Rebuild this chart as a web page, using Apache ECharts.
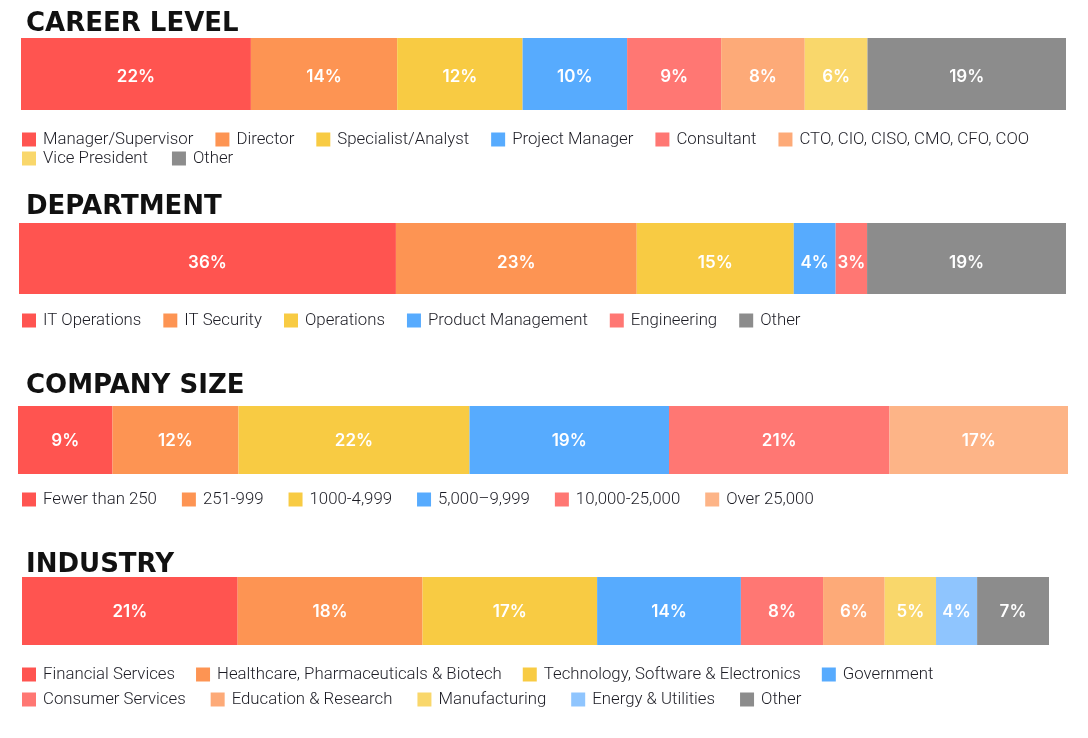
<!DOCTYPE html>
<html>
<head>
<meta charset="utf-8">
<script src="https://cdn.jsdelivr.net/npm/echarts@6/dist/echarts.min.js"></script>
<style>
html,body{margin:0;padding:0;background:#fff;}
#c{width:1088px;height:738px;}
</style>
</head>
<body>
<div id="c"></div>
<script>
// ---- data ----
const titles = ['CAREER LEVEL', 'DEPARTMENT', 'COMPANY SIZE', 'INDUSTRY'];

const careerCats = ['Manager/Supervisor', 'Director', 'Specialist/Analyst', 'Project Manager', 'Consultant', 'CTO, CIO, CISO, CMO, CFO, COO', 'Vice President', 'Other'];
const careerVals = [22, 14, 12, 10, 9, 8, 6, 19];

const deptCats = ['IT Operations', 'IT Security', 'Operations', 'Product Management', 'Engineering', 'Other'];
const deptVals = [36, 23, 15, 4, 3, 19];

const sizeCats = ['Fewer than 250', '251-999', '1000-4,999', '5,000\u20139,999', '10,000-25,000', 'Over 25,000'];
const sizeVals = [9, 12, 22, 19, 21, 17];

const industryCats = ['Financial Services', 'Healthcare, Pharmaceuticals & Biotech', 'Technology, Software & Electronics', 'Government', 'Consumer Services', 'Education & Research', 'Manufacturing', 'Energy & Utilities', 'Other'];
const industryVals = [21, 18, 17, 14, 8, 6, 5, 4, 7];

// ---- styles ----
const careerColors = ['#FF5450', '#FD9453', '#F8CB43', '#57ABFE', '#FF7773', '#FDAA78', '#F9D76B', '#8C8C8C'];
const deptColors = ['#FF5450', '#FD9453', '#F8CB43', '#57ABFE', '#FF7773', '#8C8C8C'];
const sizeColors = ['#FF5450', '#FD9453', '#F8CB43', '#57ABFE', '#FF7773', '#FDB487'];
const industryColors = ['#FF5450', '#FD9453', '#F8CB43', '#57ABFE', '#FF7773', '#FDAA78', '#F9D76B', '#8FC5FE', '#8C8C8C'];

const groups = [
  {cats: careerCats, vals: careerVals, colors: careerColors, grid: {left: 21, right: 22, top: 38, height: 72}, titleTop: 11, labelDy: 3,
   legends: [{items: careerCats.slice(0, 6), top: 131, gap: 22}, {items: careerCats.slice(6), top: 150, gap: 24}]},
  {cats: deptCats, vals: deptVals, colors: deptColors, grid: {left: 19, right: 22, top: 223, height: 71}, titleTop: 194, labelDy: 4,
   legends: [{items: deptCats, top: 312, gap: 22}]},
  {cats: sizeCats, vals: sizeVals, colors: sizeColors, grid: {left: 18, right: 20, top: 406, height: 68}, titleTop: 373, labelDy: 1,
   legends: [{items: sizeCats, top: 491, gap: 25}]},
  {cats: industryCats, vals: industryVals, colors: industryColors, grid: {left: 22, right: 39, top: 577, height: 68}, titleTop: 552, labelDy: 1,
   legends: [{items: industryCats.slice(0, 4), top: 666, gap: 21}, {items: industryCats.slice(4), top: 691, gap: 25}]}
];

const grid = [], xAxis = [], yAxis = [], series = [], legend = [], title = [];
groups.forEach((g, gi) => {
  grid.push(Object.assign({containLabel: false}, g.grid));
  xAxis.push({type: 'value', gridIndex: gi, min: 0, max: 100, show: false});
  yAxis.push({type: 'category', gridIndex: gi, data: [titles[gi]], show: false});
  title.push({text: titles[gi], left: 26, top: g.titleTop, padding: 0,
    textStyle: {fontFamily: 'DejaVu Sans', fontWeight: 'bold', fontSize: 26, color: '#111'}});
  g.cats.forEach((c, i) => {
    series.push({
      name: c, type: 'bar', stack: 'g' + gi, xAxisIndex: gi, yAxisIndex: gi,
      barWidth: '100%', data: [g.vals[i]],
      itemStyle: {color: g.colors[i]},
      label: {show: true, position: 'inside', offset: [0, g.labelDy], formatter: '{c}%', color: '#fff',
        fontFamily: 'Inter', fontWeight: 600, fontSize: 17},
      emphasis: {disabled: true},
      silent: true, animation: false
    });
  });
  g.legends.forEach(l => {
    legend.push({
      data: l.items, left: 22, top: l.top, orient: 'horizontal', padding: 0,
      icon: 'rect', itemWidth: 14, itemHeight: 14, itemGap: l.gap,
      selectedMode: false,
      textStyle: {fontFamily: 'Roboto', fontWeight: 300, fontSize: 16.8, color: '#1c1c24', padding: [0, 0, 0, 2]}
    });
  });
});

const chart = echarts.init(document.getElementById('c'), null, {renderer: 'canvas'});
chart.setOption({animation: false, backgroundColor: '#fff', title, grid, xAxis, yAxis, legend, series, tooltip: {show: false}});
</script>
</body>
</html>
